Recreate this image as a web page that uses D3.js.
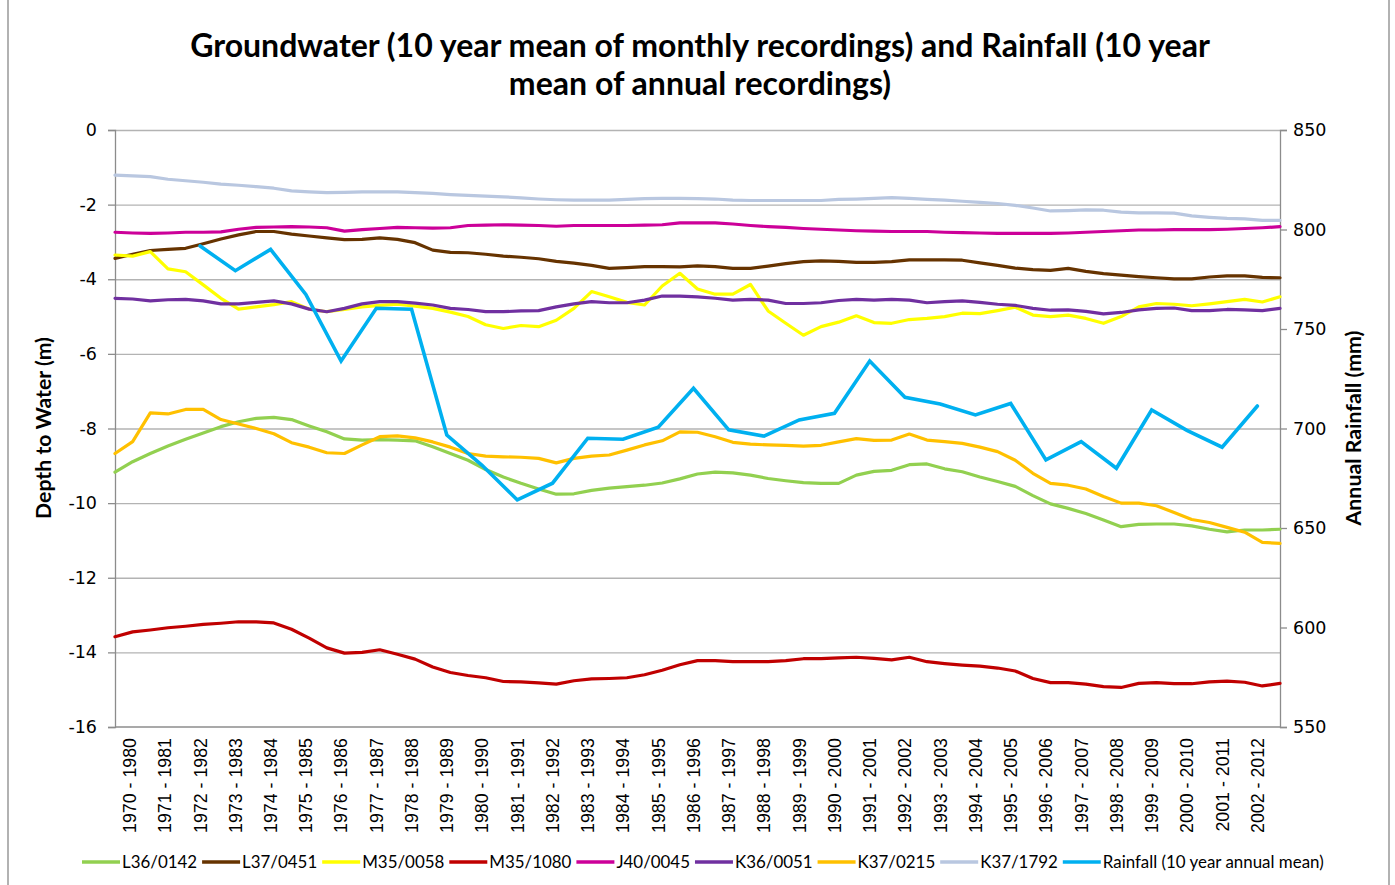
<!DOCTYPE html>
<html><head><meta charset="utf-8">
<script src="https://cdn.jsdelivr.net/npm/d3@7"></script>
<style>body{margin:0;background:#fff}svg{display:block}</style>
</head><body>
<svg id="chart" width="1395" height="885"></svg>
<script>
// ---------------- DATA ----------------
const categories = ["1970 - 1980","1971 - 1981","1972 - 1982","1973 - 1983","1974 - 1984","1975 - 1985",
  "1976 - 1986","1977 - 1987","1978 - 1988","1979 - 1989","1980 - 1990","1981 - 1991","1982 - 1992",
  "1983 - 1993","1984 - 1994","1985 - 1995","1986 - 1996","1987 - 1997","1988 - 1998","1989 - 1999",
  "1990 - 2000","1991 - 2001","1992 - 2002","1993 - 2003","1994 - 2004","1995 - 2005","1996 - 2006",
  "1997 - 2007","1998 - 2008","1999 - 2009","2000 - 2010","2001 - 2011","2002 - 2012"];

// groundwater depth (m), sampled every half-year step along the category axis (67 steps)
const L36_0142 = [-9.17,-8.89,-8.67,-8.47,-8.29,-8.12,-7.95,-7.82,-7.73,-7.70,
 -7.76,-7.93,-8.09,-8.28,-8.31,-8.30,-8.31,-8.33,-8.49,-8.67,
 -8.85,-9.10,-9.30,-9.47,-9.62,-9.76,-9.75,-9.66,-9.60,-9.56,
 -9.52,-9.46,-9.35,-9.22,-9.17,-9.19,-9.25,-9.34,-9.40,-9.45,
 -9.47,-9.47,-9.25,-9.15,-9.12,-8.97,-8.95,-9.08,-9.16,-9.30,
 -9.42,-9.55,-9.80,-10.02,-10.14,-10.28,-10.45,-10.63,-10.57,-10.56,
 -10.56,-10.61,-10.70,-10.77,-10.72,-10.72,-10.70];
const L37_0451 = [-3.44,-3.33,-3.23,-3.20,-3.17,-3.05,-2.92,-2.81,-2.72,-2.72,
 -2.79,-2.84,-2.89,-2.94,-2.93,-2.89,-2.93,-3.02,-3.22,-3.28,
 -3.29,-3.33,-3.38,-3.41,-3.45,-3.52,-3.57,-3.63,-3.71,-3.69,
 -3.66,-3.66,-3.67,-3.64,-3.66,-3.71,-3.71,-3.65,-3.58,-3.53,
 -3.51,-3.52,-3.55,-3.55,-3.53,-3.48,-3.48,-3.48,-3.49,-3.56,
 -3.63,-3.70,-3.74,-3.76,-3.71,-3.79,-3.85,-3.89,-3.93,-3.96,
 -3.99,-3.99,-3.94,-3.91,-3.91,-3.95,-3.96];
const M35_0058 = [-3.35,-3.38,-3.26,-3.72,-3.80,-4.15,-4.51,-4.80,-4.74,-4.68,
 -4.60,-4.80,-4.87,-4.81,-4.74,-4.70,-4.67,-4.72,-4.78,-4.88,
 -5.00,-5.22,-5.32,-5.24,-5.27,-5.10,-4.78,-4.33,-4.47,-4.62,
 -4.69,-4.18,-3.84,-4.26,-4.40,-4.40,-4.14,-4.85,-5.18,-5.50,
 -5.27,-5.15,-4.98,-5.16,-5.18,-5.08,-5.05,-5.00,-4.91,-4.92,
 -4.84,-4.75,-4.96,-5.00,-4.96,-5.05,-5.18,-5.00,-4.74,-4.65,
 -4.67,-4.71,-4.66,-4.60,-4.54,-4.61,-4.47];
const M35_1080 = [-13.58,-13.45,-13.40,-13.34,-13.30,-13.25,-13.22,-13.18,-13.18,-13.21,
 -13.38,-13.62,-13.88,-14.02,-14.00,-13.93,-14.05,-14.18,-14.39,-14.54,
 -14.62,-14.68,-14.78,-14.79,-14.82,-14.85,-14.76,-14.71,-14.70,-14.68,
 -14.60,-14.48,-14.33,-14.22,-14.22,-14.25,-14.25,-14.25,-14.22,-14.17,
 -14.17,-14.15,-14.13,-14.16,-14.20,-14.13,-14.25,-14.30,-14.34,-14.37,
 -14.42,-14.50,-14.70,-14.81,-14.81,-14.85,-14.92,-14.94,-14.83,-14.81,
 -14.84,-14.84,-14.79,-14.77,-14.80,-14.90,-14.83];
const J40_0045 = [-2.74,-2.76,-2.77,-2.76,-2.74,-2.74,-2.73,-2.66,-2.61,-2.60,
 -2.59,-2.60,-2.62,-2.71,-2.67,-2.64,-2.61,-2.62,-2.63,-2.62,
 -2.56,-2.55,-2.54,-2.55,-2.56,-2.58,-2.56,-2.56,-2.56,-2.56,
 -2.55,-2.54,-2.49,-2.49,-2.49,-2.52,-2.56,-2.59,-2.61,-2.64,
 -2.66,-2.68,-2.70,-2.71,-2.72,-2.72,-2.72,-2.74,-2.75,-2.76,
 -2.77,-2.77,-2.77,-2.77,-2.76,-2.74,-2.72,-2.70,-2.68,-2.68,
 -2.67,-2.67,-2.67,-2.66,-2.64,-2.62,-2.59];
const K36_0051 = [-4.51,-4.53,-4.58,-4.55,-4.54,-4.58,-4.66,-4.66,-4.62,-4.58,
 -4.66,-4.80,-4.87,-4.78,-4.66,-4.60,-4.60,-4.64,-4.69,-4.78,
 -4.81,-4.87,-4.87,-4.85,-4.84,-4.74,-4.66,-4.60,-4.63,-4.63,
 -4.56,-4.45,-4.45,-4.47,-4.51,-4.56,-4.54,-4.56,-4.65,-4.65,
 -4.63,-4.57,-4.54,-4.56,-4.54,-4.56,-4.63,-4.60,-4.58,-4.62,
 -4.67,-4.70,-4.78,-4.83,-4.82,-4.86,-4.93,-4.89,-4.82,-4.78,
 -4.77,-4.84,-4.84,-4.81,-4.82,-4.84,-4.78];
const K37_0215 = [-8.67,-8.35,-7.58,-7.61,-7.49,-7.49,-7.76,-7.88,-8.00,-8.14,
 -8.38,-8.50,-8.65,-8.67,-8.44,-8.22,-8.20,-8.25,-8.36,-8.50,
 -8.67,-8.74,-8.76,-8.77,-8.80,-8.92,-8.80,-8.74,-8.71,-8.58,
 -8.44,-8.33,-8.09,-8.10,-8.22,-8.37,-8.42,-8.44,-8.45,-8.47,
 -8.45,-8.36,-8.27,-8.32,-8.31,-8.15,-8.31,-8.35,-8.40,-8.50,
 -8.62,-8.85,-9.20,-9.47,-9.52,-9.62,-9.82,-10.00,-10.00,-10.07,
 -10.25,-10.44,-10.52,-10.65,-10.78,-11.05,-11.08];
const K37_1792 = [-1.21,-1.23,-1.25,-1.32,-1.36,-1.40,-1.45,-1.48,-1.52,-1.56,
 -1.63,-1.66,-1.68,-1.67,-1.66,-1.66,-1.66,-1.68,-1.70,-1.73,
 -1.75,-1.77,-1.79,-1.82,-1.85,-1.87,-1.88,-1.88,-1.88,-1.86,
 -1.84,-1.83,-1.83,-1.84,-1.85,-1.88,-1.89,-1.89,-1.89,-1.89,
 -1.89,-1.86,-1.85,-1.83,-1.81,-1.83,-1.86,-1.88,-1.91,-1.94,
 -1.97,-2.02,-2.09,-2.17,-2.16,-2.14,-2.15,-2.20,-2.22,-2.22,
 -2.23,-2.30,-2.34,-2.37,-2.38,-2.42,-2.42];

// rainfall, 10 year annual mean (mm), one per category
const rainfall = [null,null,791.7,779.3,790.0,767.4,733.9,760.4,759.9,696.7,681.5,664.1,672.5,
  695.1,694.6,700.6,720.2,699.3,696.2,704.3,707.6,733.9,715.7,712.3,706.8,712.6,684.2,693.4,
  680.0,709.3,699.1,690.6,711.3];

const seriesNames = ["L36/0142","L37/0451","M35/0058","M35/1080","J40/0045","K36/0051","K37/0215","K37/1792"];
const seriesColors = ["#92D050","#663300","#FFFF00","#C00000","#CC0099","#7030A0","#FFC000","#B9C7E0"];
const rainName = "Rainfall (10 year annual mean)";
const rainColor = "#00B0F0";
const leftTicks = [0,-2,-4,-6,-8,-10,-12,-14,-16];
const rightTicks = [550,600,650,700,750,800,850];
const titleLines = ["Groundwater (10 year mean of monthly recordings) and Rainfall (10 year","mean of annual recordings)"];
const leftTitle = "Depth to Water (m)";
const rightTitle = "Annual Rainfall (mm)";

// ---------------- LAYOUT ----------------
const seriesData = [L36_0142,L37_0451,M35_0058,M35_1080,J40_0045,K36_0051,K37_0215,K37_1792];
const svg = d3.select("#chart");
const P = {left:115, right:1280, top:130, bottom:727};
const titleFont = "Lato, 'Open Sans', sans-serif";

const xLine = d3.scaleLinear().domain([0, L36_0142.length - 1]).range([P.left, P.right]);
const xBand = d3.scaleBand().domain(categories).range([112, 1275]);
const yL = d3.scaleLinear().domain([-16, 0]).range([P.bottom, P.top]);
const yR = d3.scaleLinear().domain([550, 850]).range([P.bottom, P.top]);

function fitText(sel, target){
  const w = sel.node().getComputedTextLength();
  const fs = parseFloat(sel.attr("font-size"));
  sel.attr("font-size", (fs*target/w).toFixed(2));
  return fs*target/w;
}

// chart border (sides)
svg.append("line").attr("x1",8).attr("x2",8).attr("y1",0).attr("y2",885).attr("stroke","#999").attr("stroke-width",1.5);
svg.append("line").attr("x1",1389).attr("x2",1389).attr("y1",0).attr("y2",885).attr("stroke","#999").attr("stroke-width",1.5);

// gridlines
const grid = svg.append("g").attr("transform",`translate(${P.left},0)`)
  .call(d3.axisLeft(yL).tickValues(leftTicks.filter(d=>d>-16)).tickSize(-(P.right-P.left)).tickFormat(""));
grid.select(".domain").remove();
grid.selectAll("line").attr("stroke","#b3b3b3").attr("stroke-width",1.3);

// left axis
const axL = svg.append("g").attr("transform",`translate(${P.left},0)`)
  .call(d3.axisLeft(yL).tickValues(leftTicks).tickSize(7).tickPadding(11).tickFormat(d=>d));
axL.select(".domain").attr("stroke","#8c8c8c").attr("stroke-width",1.3);
axL.selectAll(".tick line").attr("stroke","#8c8c8c").attr("stroke-width",1.3);
axL.selectAll("text").attr("font-family","'DejaVu Sans', sans-serif").attr("font-size",17.5).attr("fill","#000");

// right axis
const axR = svg.append("g").attr("transform",`translate(${P.right},0)`)
  .call(d3.axisRight(yR).tickValues(rightTicks).tickSize(7).tickPadding(6));
axR.select(".domain").attr("stroke","#8c8c8c").attr("stroke-width",1.3);
axR.selectAll(".tick line").attr("stroke","#8c8c8c").attr("stroke-width",1.3);
axR.selectAll("text").attr("font-family","'DejaVu Sans', sans-serif").attr("font-size",17.5).attr("fill","#000");

// bottom axis
const axB = svg.append("g").attr("transform",`translate(0,${P.bottom})`)
  .call(d3.axisBottom(xBand).tickSize(0));
axB.select(".domain").remove();
svg.append("line").attr("x1",P.left).attr("x2",P.right).attr("y1",P.bottom).attr("y2",P.bottom)
  .attr("stroke","#8c8c8c").attr("stroke-width",1.3);
axB.selectAll("text")
  .attr("font-family","'Liberation Sans', Arial, sans-serif").attr("font-size",17.8).attr("fill","#000")
  .attr("transform","rotate(-90)").attr("text-anchor","end")
  .attr("x",-11).attr("y",0).attr("dy","0.36em");

// groundwater lines
const line = d3.line().x((d,i)=>xLine(i)).y(d=>yL(d));
seriesData.forEach((s,k)=>{
  svg.append("path").datum(s).attr("d",line).attr("fill","none")
    .attr("stroke",seriesColors[k]).attr("stroke-width",3.2)
    .attr("stroke-linejoin","round").attr("stroke-linecap","round");
});

// rainfall line
const rainLine = d3.line().defined(d=>d!=null)
  .x((d,i)=>xBand(categories[i]) + xBand.bandwidth()/2).y(d=>yR(d));
svg.append("path").datum(rainfall).attr("d",rainLine).attr("fill","none")
  .attr("stroke",rainColor).attr("stroke-width",3.6).attr("stroke-linejoin","miter").attr("stroke-linecap","round");

// title
const t1 = svg.append("text").attr("x",700).attr("y",57).attr("text-anchor","middle")
  .attr("font-family",titleFont).attr("font-weight","bold").attr("font-size",27).text(titleLines[0]);
const tfs = fitText(t1, 1020);
svg.append("text").attr("x",700).attr("y",95).attr("text-anchor","middle")
  .attr("font-family",titleFont).attr("font-weight","bold").attr("font-size",tfs.toFixed(2)).text(titleLines[1]);

// axis titles
const lt = svg.append("text").attr("transform","translate(51,428) rotate(-90)").attr("text-anchor","middle")
  .attr("font-family",titleFont).attr("font-weight","bold").attr("font-size",17).text(leftTitle);
fitText(lt, 182);
const rt = svg.append("text").attr("transform","translate(1361,428) rotate(-90)").attr("text-anchor","middle")
  .attr("font-family",titleFont).attr("font-weight","bold").attr("font-size",17).text(rightTitle);
fitText(rt, 195);

// legend
const legendNames = seriesNames.concat([rainName]);
const legendColors = seriesColors.concat([rainColor]);
const lg = svg.append("g");
const ly = 862, lineLen = 38, gapA = 2, gapB = 5;
const texts = legendNames.map(n => lg.append("text").attr("font-family",titleFont).attr("font-size",16).attr("y",ly).attr("dy","0.35em").text(n));
const totalText = d3.sum(texts, t=>t.node().getComputedTextLength());
const target = (1324-82) - legendNames.length*(lineLen+gapA) - (legendNames.length-1)*gapB;
const lfs = 16*target/totalText;
let cx = 82;
texts.forEach((t,i)=>{
  t.attr("font-size",lfs.toFixed(2));
  lg.append("line").attr("x1",cx).attr("x2",cx+lineLen).attr("y1",ly).attr("y2",ly)
    .attr("stroke",legendColors[i]).attr("stroke-width",3.6);
  t.attr("x",cx+lineLen+gapA);
  cx += lineLen + gapA + t.node().getComputedTextLength() + gapB;
});
</script>
</body></html>
